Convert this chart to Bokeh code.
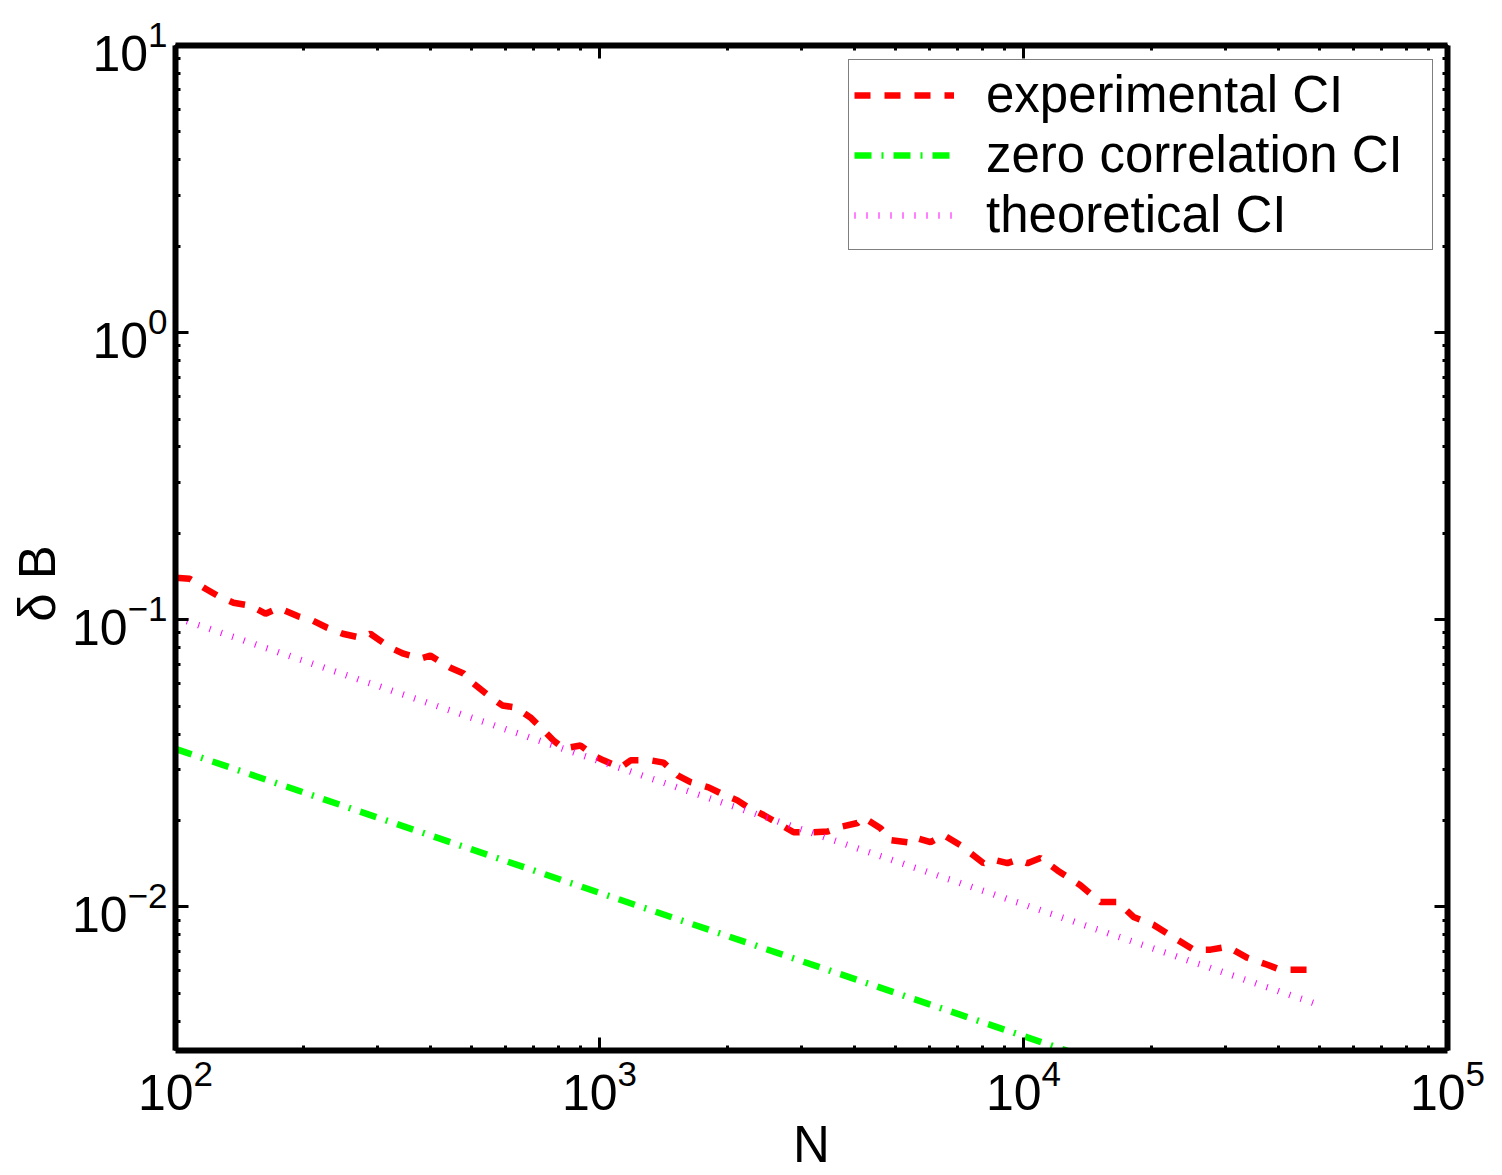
from bokeh.plotting import figure
from bokeh.models import LogAxis, Range1d, Legend, LegendItem, LogTicker
from bokeh.embed import file_html
from bokeh.resources import INLINE

# experimental confidence interval
N_exp = [100, 108, 118, 126, 137, 150, 163, 175, 194, 211, 228, 248, 273, 288,
         321, 345, 378, 399, 445, 478, 504, 547, 590, 634, 687, 726, 779, 823,
         902, 968, 1022, 1121, 1184, 1319, 1416, 1528, 1640, 1808, 1929, 2115,
         2234, 2437, 2630, 2870, 3148, 3452, 3702, 4060, 4195, 4600, 4855,
         5324, 5502, 6036, 6477, 7103, 7500, 8050, 8495, 9165, 9685, 10216,
         10965, 12025, 13620, 15190, 16660, 18170, 20260, 23080, 25180, 27620,
         30280, 33740, 37600, 40360, 43330, 48300, 50000]
dB_exp = [0.140, 0.139, 0.128, 0.121, 0.1146, 0.112, 0.105, 0.110, 0.103, 0.0993,
          0.0938, 0.0894, 0.0866, 0.0894, 0.080, 0.0762, 0.0733, 0.075, 0.0681,
          0.065, 0.060, 0.0545, 0.0503, 0.0495, 0.0457, 0.0422, 0.038, 0.0356,
          0.0365, 0.0337, 0.0324, 0.0306, 0.0324, 0.0324, 0.0318, 0.0287, 0.0272,
          0.0261, 0.0249, 0.0235, 0.0223, 0.0209, 0.0196, 0.0182, 0.0182, 0.0183,
          0.019, 0.0196, 0.0205, 0.0188, 0.0171, 0.0168, 0.0175, 0.0168, 0.0178,
          0.0164, 0.0154, 0.0142, 0.0146, 0.0142, 0.0146, 0.0142, 0.0148, 0.0134,
          0.0119, 0.0104, 0.0104, 0.00923, 0.00866, 0.00768, 0.0071, 0.0071,
          0.00727, 0.00665, 0.00629, 0.00604, 0.00604, 0.00604, 0.00604]

# zero correlation confidence interval
N_zero = [100, 1000, 10000, 50000]
dB_zero = [0.0355, 0.0112, 0.00355, 0.00159]

# theoretical confidence interval
N_theo = [100, 1000, 10000, 50000]
dB_theo = [0.102, 0.0322, 0.0102, 0.00455]

series_labels = ["experimental CI", "zero correlation CI", "theoretical CI"]
x_limits = [1e2, 1e5]
y_limits = [10 ** -2.5, 1e1]

FONT = "Liberation Sans"

p = figure(width=1500, height=1175, x_axis_type="log", y_axis_type="log",
           x_range=Range1d(*x_limits), y_range=Range1d(*y_limits),
           output_backend="svg", toolbar_location=None,
           min_border_left=175, min_border_right=53, min_border_top=45,
           min_border_bottom=125, x_axis_label="N",
           y_axis_label="δ B\u00a0\u00a0\u00a0\u00a0\u00a0")
p.grid.visible = False
p.outline_line_color = None
p.background_fill_color = "white"
p.border_fill_color = "white"

r_exp = p.line(N_exp, dB_exp, line_color="#ff0000", line_width=6.5,
               line_dash="16 14")
r_zero = p.line(N_zero, dB_zero, line_color="#00ff00", line_width=6.5,
                line_dash="17 10 2 10")
r_theo = p.line(N_theo, dB_theo, line_color="#ff00ff", line_width=6.5,
                line_dash="1 11")


def style(ax, labels=True):
    ax.ticker = LogTicker(num_minor_ticks=10)
    ax.axis_line_width = 6
    ax.axis_line_color = "black"
    ax.major_tick_in = 13
    ax.major_tick_out = 0
    ax.minor_tick_in = 5
    ax.minor_tick_out = 0
    ax.major_tick_line_width = 3
    ax.minor_tick_line_width = 3
    ax.major_label_text_font = FONT
    ax.major_label_text_color = "black"
    ax.axis_label_text_font = FONT
    ax.axis_label_text_font_style = "normal"
    ax.axis_label_text_font_size = "51px"
    ax.axis_label_text_color = "black"
    if labels:
        ax.major_label_text_font_size = "50px"
        ax.major_label_standoff = 8
        ax.axis_label_standoff = 3
    else:
        ax.major_label_text_font_size = "2px"
        ax.major_label_text_alpha = 0
        ax.major_label_standoff = 0


style(p.xaxis[0])
style(p.yaxis[0])
top = LogAxis()
right = LogAxis()
style(top, labels=False)
style(right, labels=False)
p.add_layout(top, "above")
p.add_layout(right, "right")

legend = Legend(items=[LegendItem(label=series_labels[0], renderers=[r_exp]),
                       LegendItem(label=series_labels[1], renderers=[r_zero]),
                       LegendItem(label=series_labels[2], renderers=[r_theo])],
                location="top_right")
legend.margin = 14
legend.padding = 5
legend.spacing = 1
legend.border_line_color = "black"
legend.border_line_width = 1.5
legend.background_fill_color = "white"
legend.background_fill_alpha = 1
legend.label_text_font = FONT
legend.label_text_font_size = "51px"
legend.label_text_color = "black"
legend.glyph_width = 100
legend.glyph_height = 50
legend.label_height = 55
legend.label_width = 441
legend.label_standoff = 32
p.add_layout(legend)

open("out.html", "w").write(file_html(p, INLINE))
